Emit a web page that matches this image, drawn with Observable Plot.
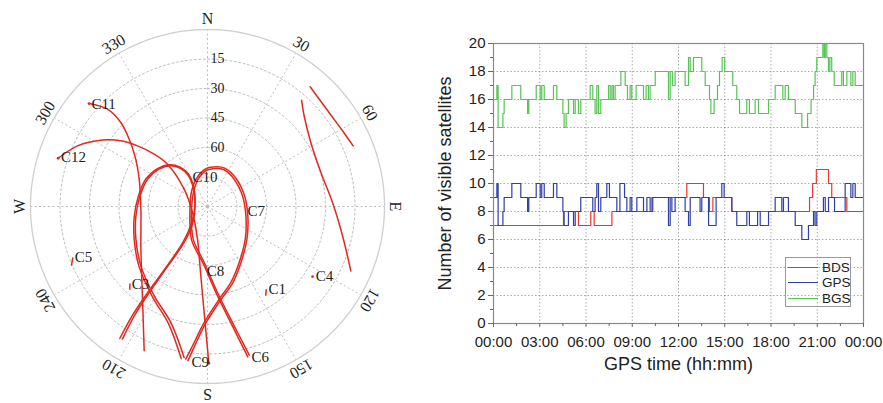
<!DOCTYPE html>
<html><head><meta charset="utf-8">
<script src="https://cdn.jsdelivr.net/npm/d3@7"></script>
<script src="https://cdn.jsdelivr.net/npm/@observablehq/plot@0.6"></script>
<style>
body{margin:0;background:#fff;}
#wrap{position:relative;width:883px;height:403px;display:flex;}
#left,#right{flex:none;}
#legend{position:absolute;left:785px;top:257px;width:66px;height:50px;border:1px solid #999;box-sizing:border-box;font:13.5px "Liberation Sans",Arial,sans-serif;color:#222;}
.row{position:absolute;left:2px;height:14px;display:flex;align-items:center;}
.sw{width:30px;height:0;border-top:1.3px solid;margin-right:4px}
</style></head><body>
<div id="wrap"><div id="left"></div><div id="right"></div><div id="legend"></div></div>
<script>
// ---------------- Skyplot data: [azimuth deg, elevation deg] ----------------
const trackC11 = [[311.0,10.2],[314.2,19.0],[314.1,28.6],[310.7,37.5],[303.4,46.3],[291.8,52.6],[267.7,56.1],[237.4,49.8],[215.0,32.4],[203.7,9.9]];
const trackC12 = [[287.9,10.2],[295.0,17.1],[302.3,26.8],[307.2,34.7],[310.9,42.9],[314.5,52.0],[316.6,60.4],[306.6,75.2],[248.2,81.8],[197.0,72.6],[185.5,54.6],[181.4,32.7],[179.5,10.3]];
const trackC13 = [[40.6,9.8],[47.2,11.4],[53.8,11.9],[60.7,11.3],[67.4,9.8]];
const trackC14 = [[41.5,17.8],[46.8,22.6],[58.2,28.2],[73.3,29.8],[88.2,26.4],[102.3,19.7],[114.2,10.1]];
const loopRightA = [[188.1,11.6],[185.6,20.5],[181.6,31.0],[172.8,42.5],[162.9,49.6],[150.5,57.3],[130.9,64.6],[103.7,69.9],[73.1,71.4],[44.3,70.6],[24.4,69.5],[12.4,70.2],[357.3,71.8],[341.1,75.3],[315.0,79.9],[249.4,81.3],[203.7,71.9],[183.4,61.5],[173.4,46.0],[167.4,27.8],[164.3,11.5]];
const loopRightB = [[187.2,11.0],[184.9,20.0],[181.0,30.4],[172.2,41.8],[162.0,48.9],[149.8,56.5],[130.2,63.8],[103.5,68.9],[73.8,70.4],[45.2,69.6],[25.0,68.6],[12.8,69.3],[357.0,70.9],[340.0,74.4],[312.0,79.0],[252.0,80.6],[205.5,71.2],[184.2,60.8],[174.0,45.2],[168.0,27.0],[165.0,10.8]];
const loopLeftA = [[188.8,12.3],[197.5,28.1],[210.8,37.1],[228.3,44.6],[245.5,50.0],[262.6,53.3],[279.0,55.3],[294.5,56.5],[307.7,58.9],[318.0,62.2],[324.9,66.4],[328.3,71.3],[323.0,77.9],[273.1,83.7],[220.3,78.2],[213.0,68.2],[213.6,54.8],[214.1,37.2],[213.8,23.1],[212.7,9.9]];
const loopLeftB = [[189.8,11.5],[198.5,27.3],[211.5,36.3],[229.0,43.8],[246.0,49.2],[262.8,52.5],[278.8,54.5],[294.0,55.7],[307.2,58.1],[317.8,61.4],[325.2,65.6],[329.5,70.5],[326.0,77.0],[285.0,83.5],[225.0,78.8],[214.5,68.0],[214.2,54.2],[214.8,36.5],[214.6,22.5],[213.6,9.4]];
const trackC1 = [[144.8,38.2],[146.7,36.0]];
const trackC3 = [[225.0,34.2],[223.2,32.3]];
const trackC5 = [[249.1,16.7],[246.7,14.7]];
const satDots = [[311.0,10.2],[287.9,10.2],[123.7,25.8],[179.5,10.3]];
const satLabels = ["C11","C12","C10","C7","C8","C9","C6","C1","C4","C3","C5"];
const satLabelPos = [[311.4,11.3],[288.5,11.4],[332.6,73.4],[96.2,69.5],[180.6,57.3],[185.9,10.3],[163.8,10.0],[143.6,37.8],[122.9,24.4],[224.3,34.9],[249.0,17.7]];
const dirLabels = ["N","30","60","E","120","150","S","210","240","W","300","330"];
const dirAz = [0,30,60,90,120,150,180,210,240,270,300,330];
const ringEl = [15,30,45,60,75];
const ringLabels = ["15","30","45","60"];

// ---------------- Visible satellites: [hour, count] change points ----------------
const bdsSteps = [[0,7],[4.54,8],[5.51,7],[6.31,8],[6.53,7],[7.68,8],[10.27,9],[12.54,10],[13.62,9],[14.01,8],[14.23,9],[15.46,8],[20.50,9],[20.70,10],[20.94,11],[21.73,10],[21.94,9],[22.92,8]];
const gpsSteps = [[0,9],[0.22,10],[0.30,7],[0.61,8],[0.69,9],[1.19,10],[1.77,9],[2.21,8],[2.29,9],[2.77,10],[3.03,9],[3.13,10],[3.29,9],[3.89,10],[4.11,9],[4.50,8],[4.58,7],[4.86,8],[5.19,7],[5.30,8],[5.66,9],[6.44,8],[6.59,9],[6.70,10],[6.81,8],[6.96,9],[7.35,10],[7.52,9],[8.00,8],[8.20,10],[8.50,9],[8.65,8],[8.86,9],[8.97,8],[9.30,9],[9.73,8],[9.95,9],[10.16,8],[10.33,9],[11.35,7],[11.46,9],[11.57,8],[11.78,9],[12.43,8],[12.65,7],[12.76,9],[13.40,8],[13.51,9],[13.95,7],[14.44,9],[14.81,10],[14.96,9],[15.46,8],[15.78,7],[16.43,8],[16.60,7],[17.13,8],[17.30,7],[17.84,8],[18.27,9],[18.70,8],[18.81,9],[19.13,8],[19.57,7],[20.00,6],[20.43,7],[20.76,8],[20.86,7],[20.97,8],[21.40,9],[21.52,8],[21.73,9],[22.12,8],[22.81,10],[23.18,9],[23.31,10],[23.46,9]];
const bgsSteps = [[0,16],[0.22,17],[0.30,14],[0.61,15],[0.69,16],[1.19,17],[1.77,16],[2.21,15],[2.29,16],[2.77,17],[3.03,16],[3.13,17],[3.29,16],[3.89,17],[4.11,16],[4.50,15],[4.58,14],[4.71,15],[4.86,16],[5.19,15],[5.30,16],[5.51,15],[5.66,16],[6.27,17],[6.44,16],[6.59,15],[6.70,17],[6.81,15],[6.96,16],[7.46,17],[7.57,16],[7.68,17],[7.78,16],[7.89,17],[8.26,18],[8.54,17],[8.69,16],[8.86,17],[8.97,16],[9.25,17],[9.73,16],[9.90,17],[10.05,16],[10.16,17],[10.49,18],[11.35,16],[11.46,18],[11.60,17],[11.78,18],[12.43,17],[12.65,19],[12.76,18],[12.97,19],[13.51,18],[13.73,17],[14.01,16],[14.10,15],[14.31,16],[14.53,17],[14.66,18],[14.83,19],[15.00,18],[15.52,17],[15.78,16],[15.96,15],[16.43,16],[16.60,15],[16.97,16],[17.19,15],[17.84,16],[18.27,17],[18.77,16],[18.92,17],[19.13,16],[19.57,15],[20.00,14],[20.37,15],[20.60,16],[20.76,17],[20.86,18],[20.97,19],[21.36,20],[21.45,19],[21.52,20],[21.62,19],[21.73,18],[21.82,19],[21.94,18],[22.10,17],[22.59,18],[22.70,17],[22.92,18],[23.18,17],[23.31,18],[23.46,17]];
const seriesNames = ["BDS","GPS","BGS"];
const seriesColors = ["#e8362e","#2e3fa8","#55c455"];
const xTicks = [0,3,6,9,12,15,18,21,24];
const yTicks = [0,2,4,6,8,10,12,14,16,18,20];

// ---------------- Skyplot ----------------
const rad = Math.PI/180;
const px = (az, el) => (90 - el) * Math.sin(az*rad);
const py = (az, el) => (90 - el) * Math.cos(az*rad);
const tracks = {C11: trackC11, C12: trackC12, C13: trackC13, C14: trackC14, RA: loopRightA, RB: loopRightB, LA: loopLeftA, LB: loopLeftB, C1: trackC1, C3: trackC3, C5: trackC5};
const trackRows = Object.entries(tracks).flatMap(([id, pts]) => pts.map(([az, el]) => ({id, az, el})));
const ringRows = ringEl.flatMap(el => d3.range(0, 361, 2).map(az => ({el, az})));
const outerRows = d3.range(0, 361, 1).map(az => ({az, el: 0}));
const serif = "'Liberation Serif', 'Times New Roman', serif";
const labelEl = -5.3;

const left = Plot.plot({
  width: 415, height: 403, marginLeft: 30, marginRight: 31, marginTop: 29, marginBottom: 20,
  x: {domain: [-90, 90], axis: null}, y: {domain: [-90, 90], axis: null},
  style: {fontFamily: serif, background: "#fff", color: "#222"},
  marks: [
    Plot.line(ringRows, {x: d => px(d.az, d.el), y: d => py(d.az, d.el), z: "el", stroke: "#bdbdbd", strokeWidth: 1, strokeDasharray: "2,2.5"}),
    Plot.link(dirAz, {x1: 0, y1: 0, x2: az => px(az, 0), y2: az => py(az, 0), stroke: "#bdbdbd", strokeWidth: 1, strokeDasharray: "2,2.5"}),
    Plot.line(outerRows, {x: d => px(d.az, d.el), y: d => py(d.az, d.el), stroke: "#cfcfcf", strokeWidth: 1.3}),
    Plot.dot([[0, 90]], {x: d => px(d[0], d[1]), y: d => py(d[0], d[1]), r: 1.5, fill: "#bbb"}),
    Plot.text(ringLabels, {x: 0, y: (d) => py(0, +d), dx: 10, fontSize: 14, fill: "#222"}),
    Plot.text(dirLabels, {x: (d, i) => px(dirAz[i], labelEl), y: (d, i) => py(dirAz[i], labelEl), rotate: (d, i) => dirAz[i], fontSize: 16, fill: "#222"}),
    Plot.line(trackRows, {x: d => px(d.az, d.el), y: d => py(d.az, d.el), z: "id", stroke: "#e3281f", strokeWidth: 1.5, curve: "catmull-rom"}),
    Plot.dot(satDots, {x: d => px(d[0], d[1]), y: d => py(d[0], d[1]), r: 1.4, fill: "#e3281f"}),
    Plot.text(satLabels, {x: (d, i) => px(satLabelPos[i][0], satLabelPos[i][1]), y: (d, i) => py(satLabelPos[i][0], satLabelPos[i][1]), textAnchor: "start", fontSize: 15, fill: "#222"})
  ]
});
document.getElementById("left").append(left);

// ---------------- Step chart ----------------
const sets = [bdsSteps, gpsSteps, bgsSteps];
const stepRows = sets.flatMap((arr, k) => {
  const rows = arr.map(([h, v]) => ({h, v, name: seriesNames[k]}));
  rows.push({h: 24, v: arr[arr.length - 1][1], name: seriesNames[k]});
  return rows;
});
const sans = "'Liberation Sans', Arial, sans-serif";
const fmt = d => String(Math.round(d) % 24).padStart(2, "0") + ":00";
const right = Plot.plot({
  width: 468, height: 403, marginLeft: 78, marginRight: 20, marginTop: 43, marginBottom: 80,
  x: {domain: [0, 24], label: null}, y: {domain: [0, 20], label: null},
  color: {domain: seriesNames, range: seriesColors},
  style: {fontFamily: sans, fontSize: "15px", color: "#222", background: "#fff"},
  marks: [
    Plot.gridX({ticks: xTicks.slice(1, -1), stroke: "#888", strokeOpacity: 0.7, strokeDasharray: "1.5,2"}),
    Plot.gridY({ticks: yTicks.slice(1, -1), stroke: "#888", strokeOpacity: 0.7, strokeDasharray: "1.5,2"}),
    Plot.line(stepRows, {x: "h", y: "v", z: "name", stroke: "name", curve: "step-after", strokeWidth: 1.2}),
    Plot.frame({stroke: "#8a8a8a", strokeWidth: 1.2}),
    Plot.axisX({ticks: xTicks, tickFormat: fmt, tickSize: 4, tickPadding: 9, label: null, stroke: "#666"}),
    Plot.axisX({ticks: xTicks.slice(0, -1).map(t => t + 1.5), tickFormat: () => "", tickSize: 3, label: null, stroke: "#666"}),
    Plot.axisY({ticks: yTicks, tickSize: 5, tickPadding: 3, label: null, stroke: "#666"}),
    Plot.axisY({ticks: yTicks.slice(0, -1).map(t => t + 1), tickFormat: () => "", tickSize: 3, label: null, stroke: "#666"}),
    Plot.text(["Number of visible satellites"], {frameAnchor: "left", textAnchor: "middle", dx: -48, rotate: -90, fontSize: 18, fill: "#222"}),
    Plot.text(["GPS time (hh:mm)"], {frameAnchor: "bottom", textAnchor: "middle", dy: 46, fontSize: 18, fill: "#222"})
  ]
});
document.getElementById("right").append(right);

// ---------------- Legend ----------------
const legend = document.getElementById("legend");
seriesNames.forEach((n, i) => {
  const row = document.createElement("div");
  row.className = "row";
  row.style.top = (2 + i * 15.7) + "px";
  const sw = document.createElement("span");
  sw.className = "sw";
  sw.style.borderTopColor = seriesColors[i];
  const t = document.createElement("span");
  t.textContent = n;
  row.append(sw, t);
  legend.append(row);
});
</script>
</body></html>
